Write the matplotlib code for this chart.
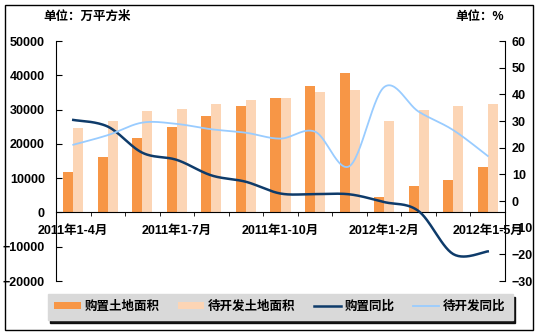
import numpy as np
import matplotlib
matplotlib.use("Agg")
import matplotlib.pyplot as plt
from matplotlib.patches import Rectangle

plt.rcParams["font.family"] = ["Liberation Sans", "Noto Sans CJK SC"]
plt.rcParams["font.weight"] = "bold"
plt.rcParams["font.size"] = 9

# data
months = ["2011年1-4月", "2011年1-5月", "2011年1-6月", "2011年1-7月", "2011年1-8月",
          "2011年1-9月", "2011年1-10月", "2011年1-11月", "2011年1-12月",
          "2012年1-2月", "2012年1-3月", "2012年1-4月", "2012年1-5月"]
purchase_area = [11700, 16300, 21600, 24800, 28000, 30900, 33500,
                 37000, 40600, 4500, 7700, 9400, 13200]
pending_area = [24500, 26800, 29500, 30300, 31500, 32700, 33300,
                35000, 35600, 26800, 30000, 30900, 31500]
purchase_yoy = [30.4, 27.9, 18.1, 15.4, 9.6, 7.2, 2.8,
                2.6, 2.5, -0.4, -3.8, -19.9, -18.9]
pending_yoy = [21.1, 24.7, 29.4, 28.9, 26.9, 25.6, 23.4,
               26.0, 13.1, 42.7, 33.5, 26.6, 16.9]
shown_ticks = [0, 3, 6, 9, 12]

ORANGE = "#F79646"
PEACH = "#FCD5B5"
DARK = "#0E3B6A"
LIGHT = "#99CCFF"


def smooth(xs, ys, n=30):
    # excel-style smoothed line (bezier through every point)
    xs = np.asarray(xs, float)
    ys = np.asarray(ys, float)
    px = np.concatenate([[xs[0]], xs, [xs[-1]]])
    py = np.concatenate([[ys[0]], ys, [ys[-1]]])
    outx, outy = [], []
    t = np.linspace(0, 1, n)
    for i in range(1, len(px) - 2):
        p0 = np.array([px[i - 1], py[i - 1]])
        p1 = np.array([px[i], py[i]])
        p2 = np.array([px[i + 1], py[i + 1]])
        p3 = np.array([px[i + 2], py[i + 2]])
        c1 = p1 + (p2 - p0) / 6
        c2 = p2 - (p3 - p1) / 6
        b = ((1 - t) ** 3)[:, None] * p1 + (3 * (1 - t) ** 2 * t)[:, None] * c1 \
            + (3 * (1 - t) * t ** 2)[:, None] * c2 + (t ** 3)[:, None] * p2
        outx.extend(b[:, 0])
        outy.extend(b[:, 1])
    return outx, outy


fig = plt.figure(figsize=(5.42, 3.34), dpi=100)
ax = fig.add_axes([56 / 542, 53 / 334, 449 / 542, 240 / 334])
ax2 = ax.twinx()

x = np.arange(len(months))
w = 0.29
b1 = ax.bar(x - w / 2, purchase_area, w, color=ORANGE, label="购置土地面积")
b2 = ax.bar(x + w / 2, pending_area, w, color=PEACH, label="待开发土地面积")

ax.set_xlim(-0.5, len(months) - 0.5)
ax.set_ylim(-20000, 50000)
ax.set_yticks(np.arange(-20000, 50001, 10000))
ax.tick_params(axis="y", direction="in", length=4, pad=8, labelsize=9)
ax.spines["bottom"].set_position(("data", 0))
ax.spines["top"].set_visible(False)
ax.spines["right"].set_visible(False)
ax.set_xticks(shown_ticks)
ax.set_xticklabels([months[i] for i in shown_ticks])
ax.tick_params(axis="x", which="major", length=0, pad=9, labelsize=9)
ax.set_xticks(np.arange(0.5, len(months)), minor=True)
ax.tick_params(axis="x", which="minor", direction="out", length=3)

sx, sy = smooth(x, purchase_yoy)
l1, = ax2.plot(sx, sy, color=DARK, lw=1.8, label="购置同比")
sx, sy = smooth(x, pending_yoy)
l2, = ax2.plot(sx, sy, color=LIGHT, lw=1.3, label="待开发同比")
ax2.set_ylim(-30, 60)
ax2.set_yticks(np.arange(-30, 61, 10))
ax2.tick_params(axis="y", direction="in", length=4, pad=5, labelsize=9)
for s in ["top", "bottom", "left"]:
    ax2.spines[s].set_visible(False)

fig.text(43 / 542, 1 - 17 / 334, "单位：万平方米", fontsize=9, va="center", ha="left")
fig.text(455 / 542, 1 - 17 / 334, "单位：%", fontsize=9, va="center", ha="left")

leg = fig.legend(handles=[b1, b2, l1, l2], loc="center", ncol=4,
                 bbox_to_anchor=(280 / 542, 1 - 307 / 334), frameon=True,
                 fancybox=False, shadow={"color": "black", "alpha": 0.9},
                 facecolor="#D9D9D9", edgecolor="#D9D9D9", framealpha=1,
                 handlelength=2.1, handleheight=0.45, handletextpad=0.3,
                 columnspacing=1.5, borderpad=0.55, fontsize=9)

fig.patches.append(Rectangle((5 / 542, 4 / 334), 528 / 542, 325 / 334,
                             transform=fig.transFigure, fill=False,
                             edgecolor="black", lw=1))

fig.savefig("out.png", dpi=100)
